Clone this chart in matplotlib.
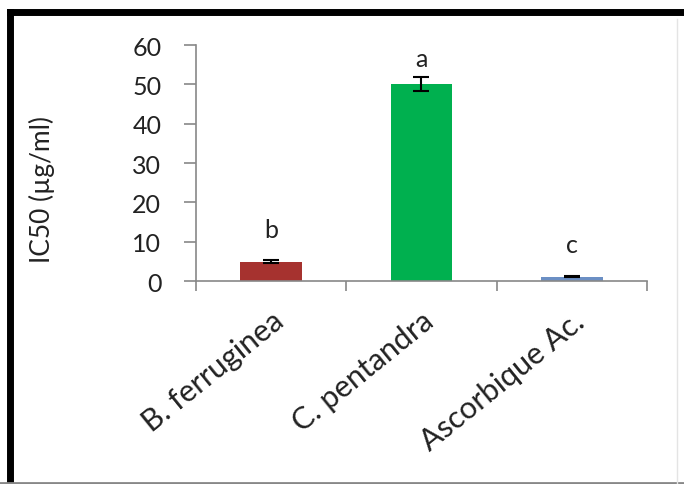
import matplotlib.pyplot as plt
import numpy as np
from matplotlib.lines import Line2D

plt.rcParams['font.family'] = ['Lato', 'DejaVu Sans']

# IC50 values per extract
categories = ['B. ferruginea', 'C. pentandra', 'Ascorbique Ac.']
ic50 = [4.9, 50.0, 1.1]
ic50_err = [0.35, 1.8, 0.2]
letters = ['b', 'a', 'c']
bar_colors = ['#A6322F', '#00B04F', '#6B8FC4']
yticks = [0, 10, 20, 30, 40, 50, 60]

fig = plt.figure(figsize=(6.84, 4.85), dpi=100)
ax = fig.add_axes([196 / 684, 1 - 282 / 485, 451 / 684, 236 / 485])

x = np.arange(len(categories))
ax.bar(x, ic50, width=0.41, color=bar_colors, zorder=2)
ax.errorbar(x, ic50, yerr=ic50_err, fmt='none', ecolor='black',
            elinewidth=1.5, capsize=6, capthick=1.5, zorder=3)

# significance letters above the bars
letter_y = [13.2, 56.5, 9.4]
for xi, ly, s in zip(x, letter_y, letters):
    ax.text(xi, ly, s, ha='center', va='center', fontsize=18, color='#222222')

ax.set_xlim(-0.5, 2.5)
ax.set_ylim(0, 60)
ax.set_yticks(yticks)
ax.set_yticklabels([str(v) for v in yticks], fontsize=18, color='#222222')

# category separators as ticks on the x axis
ax.set_xticks([-0.5, 0.5, 1.5, 2.5])
ax.set_xticklabels([])
ax.set_xticks(x, minor=True)
ax.set_xticklabels(categories, minor=True, rotation=39, ha='right',
                   rotation_mode='anchor', fontsize=22, color='#222222')
ax.tick_params(axis='x', which='minor', length=0, pad=18)
ax.tick_params(axis='x', which='major', direction='out', length=7,
               color='#888888', width=1.2)
ax.tick_params(axis='y', direction='out', length=9, color='#888888',
               width=1.2, pad=16)

for side in ['top', 'right']:
    ax.spines[side].set_visible(False)
for side in ['left', 'bottom']:
    ax.spines[side].set_color('#888888')
    ax.spines[side].set_linewidth(1.2)

fig.text(42 / 684, 1 - 190 / 485, 'IC50 (µg/ml)', rotation=90,
         ha='center', va='center', fontsize=19, color='#222222')

# outer frame
W, H = 684, 485
fig.add_artist(Line2D([10 / W, 10 / W], [1 - 13 / H, 0], transform=fig.transFigure,
                      color='black', linewidth=5))
fig.add_artist(Line2D([10 / W, 1], [1 - 13 / H, 1 - 13 / H], transform=fig.transFigure,
                      color='black', linewidth=5))
fig.add_artist(Line2D([0, 1], [1.5 / H, 1.5 / H], transform=fig.transFigure,
                      color='#888888', linewidth=2))
fig.add_artist(Line2D([677 / W, 677 / W], [1 - 20 / H, 0], transform=fig.transFigure,
                      color='#e4e4e4', linewidth=1))

fig.savefig('out.png', dpi=100)
